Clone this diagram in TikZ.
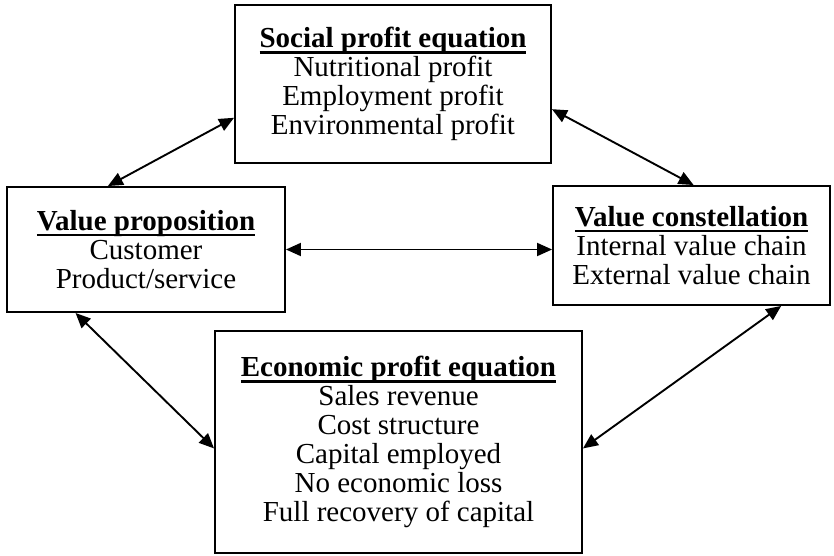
\documentclass[tikz,border=0pt]{standalone}
\usepackage{fontspec}
\setmainfont{Liberation Serif}
\usetikzlibrary{arrows.meta}
\newsavebox{\headbox}
\newcommand{\boxhead}[1]{\sbox{\headbox}{\textbf{#1}}%
  \rlap{\usebox{\headbox}}\rule[-6pt]{\wd\headbox}{2.6pt}}

\begin{document}
\begin{tikzpicture}[x=1pt,y=-1pt,>={Triangle[length=15pt,width=13pt]},
  blok/.style={draw,line width=1.9pt,inner sep=0pt,align=center,
    font=\fontsize{29}{29}\selectfont},
  link/.style={<->,line width=1.9pt}]
  \useasboundingbox (0,0) rectangle (834,556);
  \node[blok,minimum width=316pt,minimum height=158pt] (soc) at (393,84)
    {\boxhead{Social profit equation}\\Nutritional profit\\Employment profit\\Environmental profit};
  \node[blok,minimum width=278pt,minimum height=125pt] (vp) at (146,249.5)
    {\boxhead{Value proposition}\\Customer\\Product/service};
  \node[blok,minimum width=277pt,minimum height=119pt] (vc) at (691.5,245.5)
    {\boxhead{Value constellation}\\Internal value chain\\External value chain};
  \node[blok,minimum width=367pt,minimum height=222pt] (epe) at (398.5,442)
    {\boxhead{Economic profit equation}\\Sales revenue\\Cost structure\\Capital employed\\No economic loss\\Full recovery of capital};
  \draw[link] (vp.121) -- (soc.192);
  \draw[link] (soc.-9) -- (vc.88);
  \draw[link] (vp.east) -- (vp.east -| vc.west);
  \draw[link] (vp.222) -- (epe.182);
  \draw[link] (epe.-2) -- (vc.-34);
\end{tikzpicture}
\end{document}
